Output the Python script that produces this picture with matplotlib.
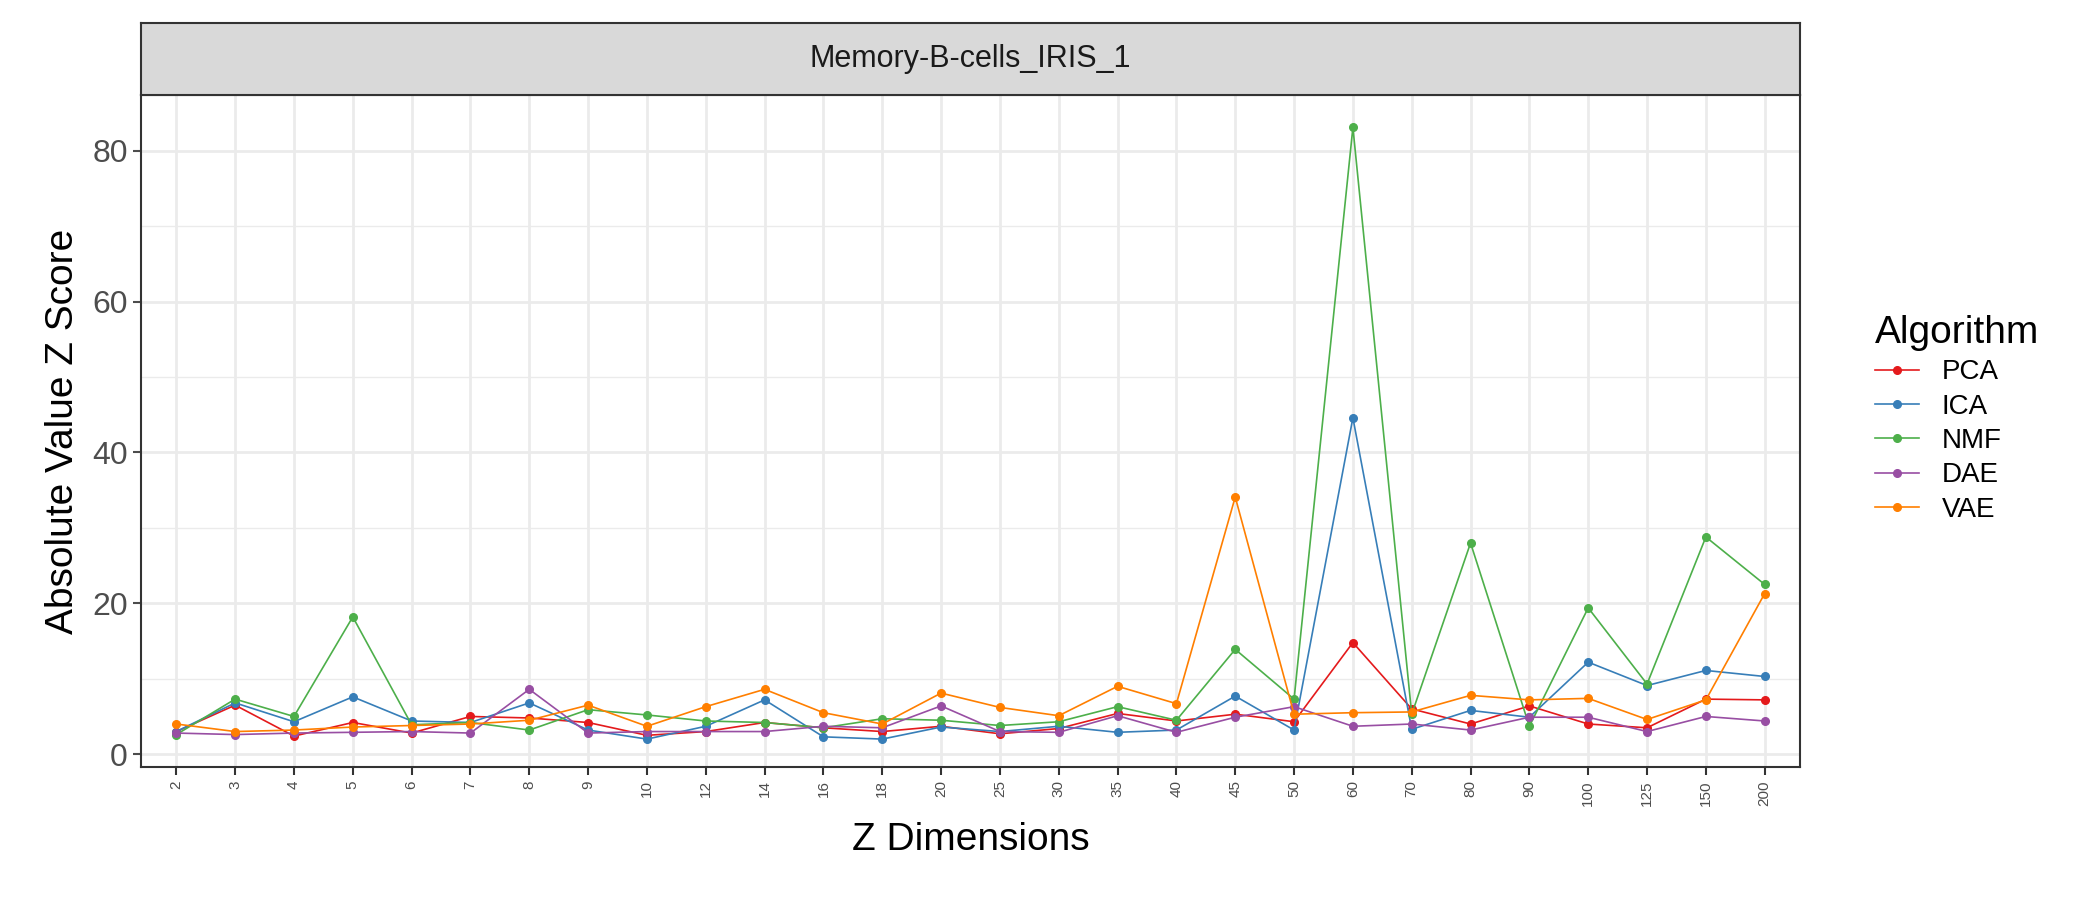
import matplotlib
matplotlib.use("Agg")
import matplotlib.pyplot as plt
from matplotlib.lines import Line2D

dims = ["2","3","4","5","6","7","8","9","10","12","14","16","18","20","25","30","35","40","45","50","60","70","80","90","100","125","150","200"]
PCA = [3.0,6.5,2.4,4.2,2.8,5.0,4.8,4.2,2.5,3.0,4.2,3.5,3.0,3.7,2.7,3.4,5.4,4.4,5.3,4.3,14.8,6.0,4.0,6.4,4.0,3.5,7.3,7.2]
ICA = [3.0,6.8,4.3,7.6,4.4,4.2,6.8,3.2,2.0,3.7,7.2,2.3,2.0,3.6,3.0,3.7,2.9,3.2,7.7,3.2,44.6,3.3,5.8,4.9,12.2,9.1,11.1,10.3]
NMF = [2.6,7.3,5.0,18.2,3.9,4.2,3.2,5.9,5.2,4.4,4.2,3.5,4.7,4.5,3.8,4.3,6.3,4.5,13.9,7.3,83.1,5.3,28.0,3.7,19.4,9.3,28.8,22.5]
DAE = [2.8,2.6,2.8,2.9,3.0,2.8,8.6,2.8,3.0,3.0,3.0,3.7,3.5,6.4,3.0,2.9,5.1,2.9,4.9,6.3,3.7,4.0,3.2,4.9,4.9,3.0,5.0,4.4]
VAE = [4.0,3.0,3.2,3.6,3.8,4.0,4.5,6.5,3.7,6.3,8.6,5.5,4.0,8.1,6.2,5.1,9.0,6.7,34.1,5.3,5.5,5.6,7.8,7.2,7.4,4.6,7.2,21.3]
series = [("PCA", PCA, "#E41A1C"), ("ICA", ICA, "#377EB8"), ("NMF", NMF, "#4DAF4A"),
          ("DAE", DAE, "#984EA3"), ("VAE", VAE, "#FF7F00")]

plt.rcParams['font.family'] = ['Liberation Sans', 'DejaVu Sans']
fig = plt.figure(figsize=(21, 9), dpi=100)
ax = fig.add_axes([141/2100, 1-767/900, (1800-141)/2100, (767-95)/900])
xs = list(range(len(dims)))
for name, vals, col in series:
    ax.plot(xs, vals, color=col, lw=1.2, marker='o', ms=5.5, label=name)
ax.set_xlim(-0.6, len(dims)-0.4)
ax.set_ylim(-1.7, 87.4)
ax.set_xticks(xs)
ax.set_xticklabels(dims, rotation=90, fontsize=11, color='#4D4D4D')
ax.set_yticks([0, 20, 40, 60, 80])
ax.set_yticks([10, 30, 50, 70], minor=True)
ax.tick_params(axis='y', labelsize=23, colors='#4D4D4D', length=6, width=1.5)
ax.tick_params(axis='y', which='minor', length=0)
ax.tick_params(axis='x', length=6, width=1.5, color='#333333')
ax.grid(True, which='major', color='#EBEBEB', lw=2)
ax.grid(True, which='minor', axis='y', color='#EBEBEB', lw=1)
ax.set_axisbelow(True)
for s in ax.spines.values():
    s.set_color('#333333'); s.set_linewidth(1.5)
ax.set_xlabel("Z Dimensions", fontsize=28, labelpad=12)
ax.set_ylabel("Absolute Value Z Score", fontsize=28, labelpad=8)

sax = fig.add_axes([141/2100, 1-95/900, (1800-141)/2100, (95-23)/900])
sax.set_facecolor('#D9D9D9')
sax.set_xticks([]); sax.set_yticks([])
for s in sax.spines.values():
    s.set_color('#333333'); s.set_linewidth(1.5)
sax.text(0.5, 0.5, "Memory-B-cells_IRIS_1", ha='center', va='center', fontsize=22, color='#1A1A1A', transform=sax.transAxes)

handles = [Line2D([0], [0], color=c, lw=1.2, marker='o', ms=5.5) for _, _, c in series]
fig.legend(handles, [n for n, _, _ in series], title="Algorithm", loc='upper left',
           bbox_to_anchor=(1850/2100, 1-290/900), frameon=False, fontsize=20,
           title_fontsize=28, handlelength=1.6, labelspacing=0.3, alignment='left')
fig.savefig("out.png", dpi=100)
